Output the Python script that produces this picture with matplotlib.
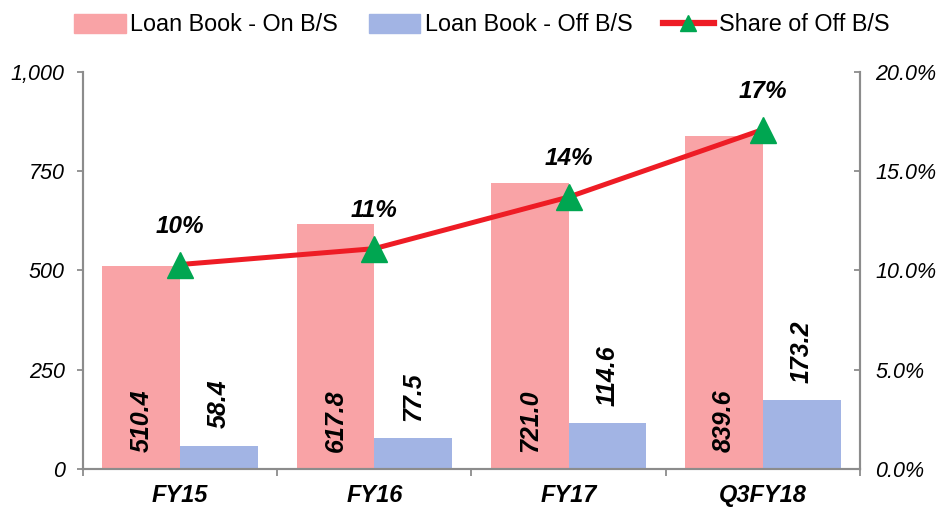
import matplotlib
matplotlib.use("Agg")
import matplotlib.pyplot as plt
import numpy as np
from matplotlib.lines import Line2D
from matplotlib.patches import Patch

categories = ["FY15", "FY16", "FY17", "Q3FY18"]
on_bs = [510.4, 617.8, 721.0, 839.6]
off_bs = [58.4, 77.5, 114.6, 173.2]
share = [10.3, 11.1, 13.7, 17.1]
share_labels = ["10%", "11%", "14%", "17%"]
left_ticks = [0, 250, 500, 750, 1000]
left_tick_labels = ["0", "250", "500", "750", "1,000"]
right_ticks = [0, 5, 10, 15, 20]
right_tick_labels = ["0.0%", "5.0%", "10.0%", "15.0%", "20.0%"]

plt.rcParams['font.family'] = ['Liberation Sans', 'DejaVu Sans']

pink = "#F9A3A6"
blue = "#A2B4E4"
red = "#EE1C25"
green = "#00A651"
gray = "#8C8C8C"

fig = plt.figure(figsize=(9.43, 5.07), dpi=100)
ax = fig.add_axes([0.088, 0.075, 0.824, 0.783])
ax2 = ax.twinx()

x = np.arange(len(categories))
w = 0.4
ax.bar(x - w / 2, on_bs, w, color=pink, zorder=2)
ax.bar(x + w / 2, off_bs, w, color=blue, zorder=2)

ax.set_xlim(-0.5, len(categories) - 0.5)
ax.set_ylim(0, 1000)
ax2.set_ylim(0, 20)

for i in range(len(categories)):
    ax.annotate(f"{on_bs[i]:.1f}", (x[i] - w / 2, 0), xytext=(0, 12.5), textcoords="offset points",
                rotation=90, ha="center", va="bottom", fontsize=18, fontweight="bold",
                fontstyle="italic")
    ax.annotate(f"{off_bs[i]:.1f}", (x[i] + w / 2, off_bs[i]), xytext=(0, 12.5), textcoords="offset points",
                rotation=90, ha="center", va="bottom", fontsize=18, fontweight="bold",
                fontstyle="italic")

ax2.plot(x, share, color=red, lw=3.6, zorder=3)
ax2.plot(x, share, ls="none", marker="^", ms=19, color=green, zorder=4)
for i in range(len(categories)):
    ax2.annotate(share_labels[i], (x[i], share[i]), xytext=(0, 27.5), textcoords="offset points",
                 ha="center", va="center", fontsize=17.5, fontweight="bold", fontstyle="italic")

ax.set_yticks(left_ticks)
ax.set_yticklabels(left_tick_labels, fontsize=15.5, fontstyle="italic")
ax2.set_yticks(right_ticks)
ax2.set_yticklabels(right_tick_labels, fontsize=15.5, fontstyle="italic")

ax.set_xticks(x)
ax.set_xticklabels(categories, fontsize=17, fontweight="bold", fontstyle="italic")
ax.tick_params(axis="x", length=0, pad=11)
ax.set_xticks(np.arange(len(categories) + 1) - 0.5, minor=True)
ax.tick_params(axis="x", which="minor", length=5, color=gray, direction="out", width=1.3)
ax.tick_params(axis="y", length=4, color=gray, direction="out", pad=9, width=1.3)
ax2.tick_params(axis="y", length=4, color=gray, direction="in", pad=11, width=1.3)

for a in (ax, ax2):
    a.spines["top"].set_visible(False)
    for s in ("left", "right", "bottom"):
        a.spines[s].set_color(gray)
        a.spines[s].set_linewidth(1.5)

handles = [Patch(color=pink), Patch(color=blue),
           Line2D([0], [0], color=red, lw=4.5, marker="^", ms=11, markerfacecolor=green, markeredgecolor=green)]
labels = ["Loan Book - On B/S", "Loan Book - Off B/S", "Share of Off B/S"]
fig.legend(handles, labels, loc="upper center", bbox_to_anchor=(0.511, 1.015), ncol=3, frameon=False,
           fontsize=16.8, handlelength=2.2, handleheight=0.9, handletextpad=0.2, columnspacing=1.3)

fig.savefig("out.png", dpi=100)
